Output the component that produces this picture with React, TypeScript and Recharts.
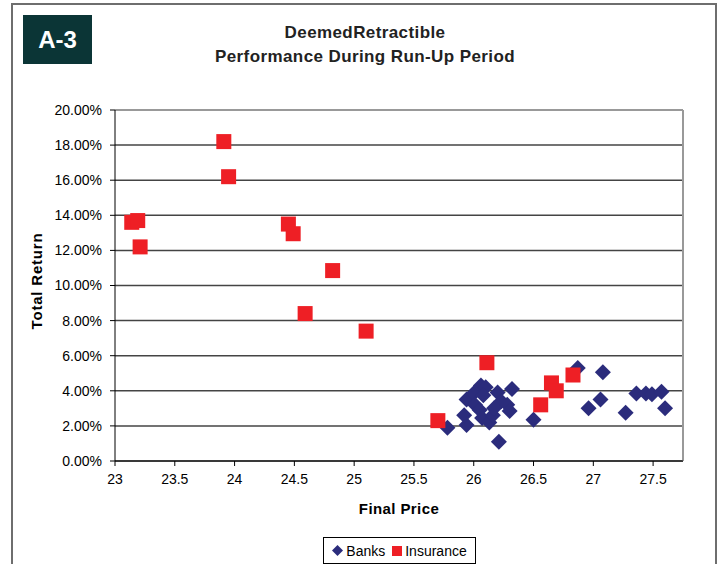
import React from "react";
import {
  ScatterChart,
  Scatter,
  XAxis,
  YAxis,
  CartesianGrid,
  ReferenceLine,
} from "recharts";

// Final price vs total return (%)
const bankPrices = [
  25.78, 25.94, 25.92, 25.94, 26.0, 26.06, 26.1, 26.08, 26.01, 26.05, 26.07,
  26.13, 26.16, 26.17, 26.2, 26.23, 26.28, 26.3, 26.32, 26.21, 26.5, 26.87,
  27.08, 26.96, 27.06, 27.27, 27.36, 27.44, 27.49, 27.57, 27.6,
];
const bankReturns = [
  1.9, 2.05, 2.6, 3.5, 3.86, 4.3, 4.2, 3.75, 3.2, 2.9, 2.45, 2.2, 2.6, 3.0,
  3.9, 3.4, 3.2, 2.85, 4.1, 1.1, 2.35, 5.3, 5.05, 3.0, 3.5, 2.75, 3.85, 3.85,
  3.8, 3.95, 3.0,
];
const insurancePrices = [
  23.14, 23.19, 23.21, 23.91, 23.95, 24.45, 24.49, 24.59, 24.82, 25.1, 25.7,
  26.11, 26.56, 26.65, 26.69, 26.83,
];
const insuranceReturns = [
  13.6, 13.7, 12.2, 18.2, 16.2, 13.5, 12.95, 8.4, 10.85, 7.4, 2.3, 5.6, 3.2,
  4.45, 4.0, 4.9,
];
const xTicks = [23, 23.5, 24, 24.5, 25, 25.5, 26, 26.5, 27, 27.5];
const yTicks = [0, 2, 4, 6, 8, 10, 12, 14, 16, 18, 20];

const banks = bankPrices.map((x, i) => ({ x, y: bankReturns[i] }));
const insurance = insurancePrices.map((x, i) => ({ x, y: insuranceReturns[i] }));

const NAVY = "#2b2c7c";
const RED = "#ee1f25";
const FONT = "'Liberation Sans', Arial, sans-serif";

const Diamond = (props: any) => {
  const { cx, cy } = props;
  const r = 8;
  return (
    <polygon
      points={`${cx},${cy - r} ${cx + r},${cy} ${cx},${cy + r} ${cx - r},${cy}`}
      fill={NAVY}
    />
  );
};

const Square = (props: any) => {
  const { cx, cy } = props;
  const s = 15;
  return <rect x={cx - s / 2} y={cy - s / 2} width={s} height={s} fill={RED} />;
};

export default function App() {
  return (
    <div
      style={{
        position: "absolute",
        left: 0,
        top: 0,
        width: 722,
        height: 564,
        background: "#fff",
        overflow: "hidden",
        fontFamily: FONT,
      }}
    >
      <div
        style={{
          position: "absolute",
          left: 11,
          top: 3,
          width: 702,
          height: 600,
          border: "2px solid #6e6e6e",
        }}
      />
      <div
        style={{
          position: "absolute",
          left: 23,
          top: 15,
          width: 69,
          height: 49,
          background: "#0b3536",
          color: "#fff",
          fontWeight: "bold",
          fontSize: 24,
          display: "flex",
          alignItems: "center",
          justifyContent: "center",
        }}
      >
        A-3
      </div>
      <div
        style={{
          position: "absolute",
          left: 65,
          width: 600,
          top: 21,
          textAlign: "center",
          fontWeight: "bold",
          fontSize: 17,
          letterSpacing: 0.4,
          lineHeight: "24px",
          color: "#222",
        }}
      >
        DeemedRetractible
        <br />
        Performance During Run-Up Period
      </div>

      <ScatterChart
        width={722}
        height={564}
        margin={{ top: 110, right: 39, bottom: 63, left: 55 }}
      >
        <CartesianGrid vertical={false} stroke="#444" strokeWidth={1.5} />
        <XAxis
          type="number"
          dataKey="x"
          domain={[23, 27.75]}
          ticks={xTicks}
          allowDataOverflow
          height={40}
          stroke="#000"
          tickSize={5}
          tickMargin={8}
          tick={{ fill: "#000", fontSize: 14, fontFamily: FONT }}
        />
        <YAxis
          type="number"
          dataKey="y"
          domain={[0, 20]}
          ticks={yTicks}
          width={60}
          stroke="#000"
          tickSize={5}
          tickMargin={8}
          tickFormatter={(v: number) => `${v.toFixed(2)}%`}
          tick={{ fill: "#000", fontSize: 14, fontFamily: FONT }}
        />
        <ReferenceLine y={20} stroke="#999" strokeWidth={2} />
        <ReferenceLine x={27.75} stroke="#999" strokeWidth={2} />
        <Scatter
          name="Banks"
          data={banks}
          shape={Diamond}
          isAnimationActive={false}
        />
        <Scatter
          name="Insurance"
          data={insurance}
          shape={Square}
          isAnimationActive={false}
        />
      </ScatterChart>

      <div
        style={{
          position: "absolute",
          left: 36,
          top: 281,
          transform: "translate(-50%, -50%) rotate(-90deg)",
          fontWeight: "bold",
          fontSize: 15,
          letterSpacing: 0.8,
          whiteSpace: "nowrap",
        }}
      >
        Total Return
      </div>
      <div
        style={{
          position: "absolute",
          left: 299,
          width: 200,
          top: 500,
          textAlign: "center",
          fontWeight: "bold",
          fontSize: 15,
          letterSpacing: 0.4,
        }}
      >
        Final Price
      </div>
      <div
        style={{
          position: "absolute",
          left: 323,
          top: 537,
          width: 153,
          height: 27,
          border: "1px solid #000",
          boxSizing: "border-box",
          display: "flex",
          alignItems: "center",
          justifyContent: "center",
          fontSize: 14,
          gap: 3,
        }}
      >
        <svg width={11} height={11}>
          <polygon points="5.5,0 11,5.5 5.5,11 0,5.5" fill={NAVY} />
        </svg>
        <span>Banks</span>
        <svg width={10} height={10} style={{ marginLeft: 4 }}>
          <rect width={10} height={10} fill={RED} />
        </svg>
        <span>Insurance</span>
      </div>
    </div>
  );
}
